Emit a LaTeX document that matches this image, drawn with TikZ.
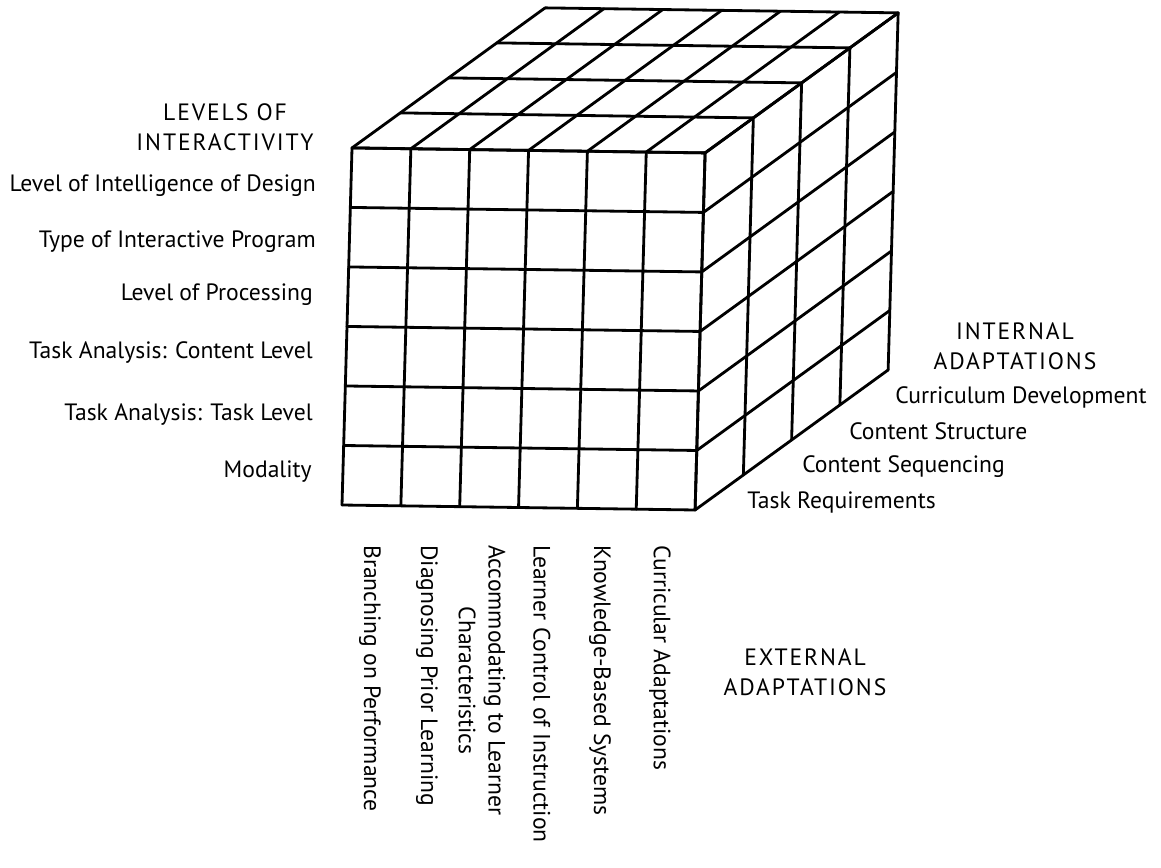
\documentclass[tikz,border=0pt]{standalone}
\usepackage{fontspec}
\setmainfont{PT Sans}
\usetikzlibrary{positioning}

\newcommand{\lblfont}{\fontsize{16.8}{21}\selectfont}
\newcommand{\capfont}{\lblfont\addfontfeature{LetterSpace=8}}

\begin{document}
\begin{tikzpicture}[x=0.025cm,y=-0.025cm]
  \useasboundingbox (0,0) rectangle (1161,867);
  % the cube: 6 columns, 6 rows, 4 layers deep
  \begin{scope}[shift={(342,505)}, x={(1.4708cm,-0.0208cm)}, y={(0.0417cm,1.4875cm)},
      z={(1.2063cm,0.875cm)}, line width=2pt, line join=round, line cap=round]
    \foreach \j in {0,...,6} \draw (0,\j,0) -- (6,\j,0) -- (6,\j,4);
    \foreach \i in {0,...,6} \draw (\i,0,0) -- (\i,6,0) -- (\i,6,4);
    \foreach \k in {0,...,4} \draw (6,0,\k) -- (6,6,\k) -- (0,6,\k);
  \end{scope}
  % levels of interactivity
  \begin{scope}[every node/.style={font=\lblfont, inner sep=0pt}]
    \node[align=center, font=\capfont] (levels) at (225,127) {LEVELS OF\\INTERACTIVITY};
    \node[anchor=east] (design) at (316,186) {Level of Intelligence of Design};
    \node[anchor=east] (program) at (316,242) {Type of Interactive Program};
    \node[anchor=east] (processing) at (313,295) {Level of Processing};
    \node[anchor=east] (content) at (313,353) {Task Analysis: Content Level};
    \node[anchor=east] (tasklevel) at (313,415) {Task Analysis: Task Level};
    \node[anchor=east] (modality) at (312,472) {Modality};
  \end{scope}
  % internal adaptations
  \begin{scope}[every node/.style={font=\lblfont, inner sep=0pt}]
    \node[align=center, font=\capfont] (internal) at (1015,346) {INTERNAL\\ADAPTATIONS};
    \node[anchor=west] (curriculum) at (895,397) {Curriculum Development};
    \node[anchor=west] (structure) at (849,431) {Content Structure};
    \node[anchor=west] (sequencing) at (802,467) {Content Sequencing};
    \node[anchor=west] (requirements) at (747,502) {Task Requirements};
  \end{scope}
  % external adaptations
  \begin{scope}[every node/.style={font=\lblfont, inner sep=0pt, rotate=-90, anchor=west}]
    \node (branching) at (370,545) {Branching on Performance};
    \node (diagnosing) at (427,545) {Diagnosing Prior Learning};
    \node[align=center] (accommodating) at (482,545) {Accommodating to Learner\\Characteristics};
    \node (control) at (542,545) {Learner Control of Instruction};
    \node (knowledge) at (600,545) {Knowledge-Based Systems};
    \node (curricular) at (660,545) {Curricular Adaptations};
  \end{scope}
  \node[font=\capfont, inner sep=0pt, align=center] (external) at (805,672) {EXTERNAL\\ADAPTATIONS};
\end{tikzpicture}
\end{document}
